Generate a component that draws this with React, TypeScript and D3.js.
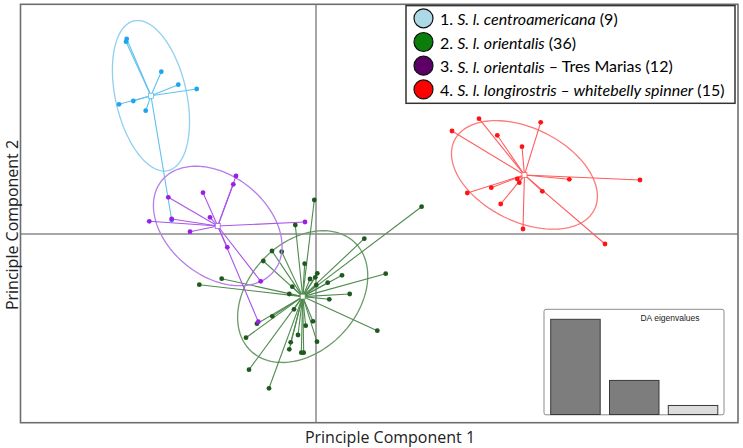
import React from "react";
import * as d3 from "d3";

// discriminant scores (LD1, LD2) per individual
const centroamericana: [number, number][] = [
  [-18.93, 19.5], [-19.0, 19.23], [-15.47, 16.23], [-13.77, 14.93], [-11.93, 14.5],
  [-19.7, 12.97], [-18.27, 13.3], [-17.03, 12.33], [-14.43, 1.4],
];

const orientalis: [number, number][] = [
  [-0.17, 3.4], [-2.07, 0.9], [4.83, -0.47], [-4.4, -1.7], [-3.43, -1.77],
  [-5.27, -2.7], [-1.13, -2.97], [0.13, -3.93], [-0.07, -4.33], [-0.6, -4.5],
  [2.6, -4.13], [6.97, -3.97], [1.17, -4.87], [0.03, -5.1], [-2.37, -5.27],
  [-9.43, -4.47], [-2.67, -6.0], [3.37, -6.0], [1.33, -6.53], [-2.2, -7.53],
  [-4.37, -8.23], [-5.9, -8.97], [-0.3, -8.73], [-1.03, -9.17], [6.13, -9.67],
  [-7.0, -10.37], [-1.8, -10.1], [0.1, -10.77], [-2.53, -10.83], [-2.67, -11.53],
  [-1.47, -11.87], [-1.23, -11.87], [-6.7, -13.57], [-4.7, -15.43], [10.56, 2.73],
  [-11.67, -5.07],
];

const tresMarias: [number, number][] = [
  [-8.0, 5.8], [-8.27, 4.97], [-11.3, 4.13], [-14.77, 3.67], [-10.6, 1.67],
  [-14.43, 1.5], [-16.67, 1.27], [-12.6, 0.23], [-1.1, 1.2], [-8.87, -1.33],
  [-5.53, -4.73], [-5.77, -8.77],
];

const longirostris: [number, number][] = [
  [16.3, 11.53], [13.6, 10.3], [22.47, 11.17], [18.13, 9.87], [20.6, 8.73],
  [15.13, 4.1], [17.53, 4.63], [20.13, 5.5], [20.33, 5.13], [18.47, 3.0],
  [25.33, 5.47], [32.4, 5.4], [22.63, 4.27], [20.7, 0.5], [28.9, -1.0],
];

const groups = [centroamericana, orientalis, tresMarias, longirostris];

const legendPrefix = ["1. ", "2. ", "3. ", "4. "];
const legendItalic = [
  "S. l. centroamericana",
  "S. l. orientalis",
  "S. l. orientalis",
  "S. l. longirostris – whitebelly spinner",
];
const legendSuffix = [" (9)", " (36)", " – Tres Marias (12)", " (15)"];

const eigenvalues = [95, 34, 9];

const xDomain: [number, number] = [-29.55, 42.2];
const yDomain: [number, number] = [-18.87, 22.97];

// styles
const pointColors = ["#1ea5ec", "#1e5a1e", "#9a1ee6", "#ff1414"];
const lineColors = ["#62c0ef", "#4f8a4f", "#a956e8", "#ff5c5c"];
const ellipseColors = ["#8fd0f0", "#6b9b6b", "#b57ee8", "#ff7a7a"];
const legendColors = ["#add8e6", "#0a7d0a", "#5c0068", "#ff0000"];

const W = 743;
const H = 448;
const FONT = "Lato, sans-serif";

const ellipsePoints = (pts: [number, number][], k = 1.5) => {
  const n = pts.length;
  const mx = d3.mean(pts, (p) => p[0])!;
  const my = d3.mean(pts, (p) => p[1])!;
  let sxx = 0, syy = 0, sxy = 0;
  pts.forEach(([x, y]) => {
    sxx += (x - mx) ** 2;
    syy += (y - my) ** 2;
    sxy += (x - mx) * (y - my);
  });
  sxx /= n; syy /= n; sxy /= n;
  const tr = sxx + syy;
  const det = sxx * syy - sxy * sxy;
  const disc = Math.sqrt(Math.max(tr * tr / 4 - det, 0));
  const a = k * Math.sqrt(tr / 2 + disc);
  const b = k * Math.sqrt(Math.max(tr / 2 - disc, 0));
  const th = 0.5 * Math.atan2(2 * sxy, sxx - syy);
  return d3.range(0, 120).map((i) => {
    const t = (i / 120) * 2 * Math.PI;
    return [
      mx + a * Math.cos(t) * Math.cos(th) - b * Math.sin(t) * Math.sin(th),
      my + a * Math.cos(t) * Math.sin(th) + b * Math.sin(t) * Math.cos(th),
    ] as [number, number];
  });
};

export default function App() {
  const x = d3.scaleLinear().domain(xDomain).range([20.5, 738]);
  const y = d3.scaleLinear().domain(yDomain).range([422.7, 4.3]);

  const ellLine = d3
    .line<[number, number]>()
    .x((d) => x(d[0]))
    .y((d) => y(d[1]))
    .curve(d3.curveLinearClosed);

  const centroids = groups.map((g) => [
    d3.mean(g, (p) => p[0])!,
    d3.mean(g, (p) => p[1])!,
  ]);

  // inset eigenvalue barplot
  const bx = d3
    .scaleBand<number>()
    .domain(eigenvalues.map((_, i) => i))
    .range([550.7, 717.8])
    .paddingInner(0.158);
  const by = d3.scaleLinear().domain([0, d3.max(eigenvalues)!]).range([414.5, 319.3]);

  return (
    <svg
      width={W}
      height={H}
      style={{ position: "absolute", left: 0, top: 0, background: "#fff" }}
    >
      <rect x={0} y={0} width={W} height={H} fill="#fff" />
      {/* axes through origin */}
      <line x1={x(0)} x2={x(0)} y1={y(yDomain[1])} y2={y(yDomain[0])} stroke="#8a8a8a" strokeWidth={1.5} />
      <line x1={x(xDomain[0])} x2={x(xDomain[1])} y1={y(0)} y2={y(0)} stroke="#8a8a8a" strokeWidth={1.5} />

      {groups.map((g, gi) => (
        <g key={gi}>
          <path d={ellLine(ellipsePoints(g)) ?? ""} fill="none" stroke={ellipseColors[gi]} strokeWidth={1.3} />
          {g.map((p, i) => (
            <line
              key={i}
              x1={x(centroids[gi][0])}
              y1={y(centroids[gi][1])}
              x2={x(p[0])}
              y2={y(p[1])}
              stroke={lineColors[gi]}
              strokeWidth={1.1}
            />
          ))}
          {g.map((p, i) => (
            <circle key={i} cx={x(p[0])} cy={y(p[1])} r={2.4} fill={pointColors[gi]} />
          ))}
          <rect
            x={x(centroids[gi][0]) - 2.5}
            y={y(centroids[gi][1]) - 2.5}
            width={5}
            height={5}
            fill="#fff"
            stroke={lineColors[gi]}
            strokeWidth={0.8}
          />
        </g>
      ))}

      {/* frame */}
      <rect x={20.5} y={4.3} width={717.5} height={418.4} fill="none" stroke="#6e6e6e" strokeWidth={1.6} />

      {/* legend */}
      <rect x={406} y={5.6} width={329} height={97.7} fill="#fff" stroke="#333" strokeWidth={1.5} />
      {legendItalic.map((t, i) => {
        const cy = 18.3 + i * 23.7;
        return (
          <g key={i}>
            <circle cx={423.5} cy={cy} r={9.5} fill={legendColors[i]} stroke="#111" strokeWidth={1.2} />
            <text x={440} y={cy} dominantBaseline="central" fontFamily={FONT} fontSize={16} fill="#000">
              {legendPrefix[i]}
              <tspan fontStyle="italic">{t}</tspan>
              {legendSuffix[i]}
            </text>
          </g>
        );
      })}

      {/* eigenvalue inset */}
      <rect x={544} y={309.3} width={180} height={105.5} rx={2} fill="#fff" stroke="#8c8c8c" strokeWidth={1} />
      {eigenvalues.map((v, i) => (
        <rect
          key={i}
          x={bx(i)}
          y={by(v)}
          width={bx.bandwidth()}
          height={by(0) - by(v)}
          fill={i < 2 ? "#7d7d7d" : "#dcdcdc"}
          stroke="#3a3a3a"
          strokeWidth={1}
        />
      ))}
      <text x={670} y={317.5} textAnchor="middle" dominantBaseline="central" fontFamily="'Liberation Sans', Arial, sans-serif" fontSize={8.5} fill="#222">
        DA eigenvalues
      </text>

      {/* axis titles */}
      <text x={390} y={437} textAnchor="middle" dominantBaseline="central" fontFamily="'Open Sans', sans-serif" fontSize={16} fill="#222">
        Principle Component 1
      </text>
      <text
        transform={`translate(12,225) rotate(-90)`}
        textAnchor="middle"
        dominantBaseline="central"
        fontFamily="'Open Sans', sans-serif"
        fontSize={16}
        fill="#222"
      >
        Principle Component 2
      </text>
    </svg>
  );
}
